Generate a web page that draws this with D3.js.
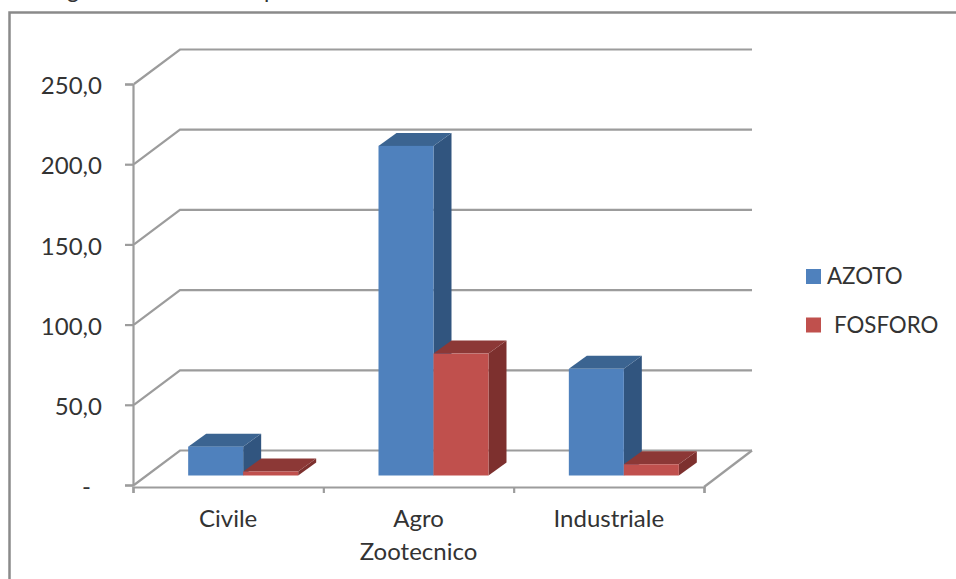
<!DOCTYPE html>
<html>
<head>
<meta charset="utf-8">
<script src="https://cdn.jsdelivr.net/npm/d3@7"></script>
<style>
  html, body { margin: 0; padding: 0; background: #fff; }
  svg { display: block; }
  text { font-family: Lato, "Open Sans", sans-serif; fill: #333; }
</style>
</head>
<body>
<svg id="chart" width="956" height="579"></svg>
<script>
const categories = ['Civile', 'Agro Zootecnico', 'Industriale']
const seriesNames = ['AZOTO', 'FOSFORO']
const azoto = [18, 205.5, 66.5]
const fosforo = [2.5, 76, 7]
const yTicks = [0, 50, 100, 150, 200, 250]

const seriesColors = [
  { front: '#4f81bd', top: '#3b6491', side: '#31557f' },
  { front: '#c0504d', top: '#8c3836', side: '#7d302e' }
]
const gridColor = '#9c9c9c'

const svg = d3.select('#chart')

const xLeft = 133
const xRight = 704
const wallDx = 47
const wallDy = -34.5
const barDx = 18
const barDy = -13
const barLift = 9.5
const barWidth = 55
const barShift = 15

const yScale = d3.scaleLinear().domain([0, 250]).range([485, 84])
const xScale = d3.scaleBand().domain(categories).range([xLeft, xRight])
const xEdges = d3.scaleLinear().domain([0, categories.length]).range([xLeft, xRight])
const seriesScale = d3.scaleBand().domain(seriesNames).range([0, barWidth * 2])

// outer frame, open towards the right and bottom
svg.append('path')
  .attr('d', 'M9.5,579V12.5H956')
  .attr('fill', 'none')
  .attr('stroke', '#8a8a8a')
  .attr('stroke-width', 2.5)

// descenders of the caption line cut off above the frame
svg.selectAll('text.caption')
  .data([{ t: 'g', x: 67 }, { t: 'p', x: 264 }])
  .enter()
  .append('text')
  .attr('class', 'caption')
  .attr('x', d => d.x)
  .attr('y', -2)
  .style('font-size', '23px')
  .text(d => d.t)

// back wall gridlines with the diagonal back to the axis
const wall = svg.append('g')
wall.selectAll('path')
  .data(yTicks)
  .enter()
  .append('path')
  .attr('d', d => {
    const y = yScale(d)
    return `M${xLeft + 1},${y}L${xLeft + wallDx},${y + wallDy}H${xRight + wallDx + 1}`
  })
  .attr('fill', 'none')
  .attr('stroke', gridColor)
  .attr('stroke-width', 2.2)

// floor edge on the right
wall.append('path')
  .attr('d', `M${xRight},487L${xRight + wallDx + 1},${yScale(0) + wallDy}`)
  .attr('fill', 'none')
  .attr('stroke', gridColor)
  .attr('stroke-width', 2.2)

// y axis, zero is written as a dash set in from the number column
const formatTick = d => d === 0 ? '-' : d3.format('.1f')(d).replace('.', ',')
const yAxis = svg.append('g')
  .attr('transform', `translate(${xLeft},0)`)
  .call(d3.axisLeft(yScale).tickValues(yTicks).tickSize(8).tickPadding(23).tickFormat(formatTick))
yAxis.selectAll('path, line').attr('stroke', gridColor).attr('stroke-width', 2.2)
yAxis.selectAll('text')
  .style('font-size', '24px')
  .attr('dy', '0.4em')
  .attr('dx', d => d === 0 ? -11 : 0)

// x axis line and ticks on the category boundaries
const xAxisY = 487
const xTicks = svg.append('g')
  .attr('transform', `translate(0,${xAxisY})`)
  .call(d3.axisBottom(xEdges).ticks(categories.length).tickSizeOuter(0).tickSize(6).tickFormat(''))
xTicks.selectAll('path, line').attr('stroke', gridColor).attr('stroke-width', 2.2)

// category labels, wrapped on spaces
const xLabels = svg.append('g')
  .selectAll('text')
  .data(categories)
  .enter()
  .append('text')
  .attr('text-anchor', 'middle')
  .attr('y', 527)
  .style('font-size', '24px')
xLabels.selectAll('tspan')
  .data(d => d.split(' ').map(word => ({ word, cat: d })))
  .enter()
  .append('tspan')
  .attr('x', d => xScale(d.cat) + xScale.bandwidth() / 2)
  .attr('dy', (d, i) => i ? 33 : 0)
  .text(d => d.word)

// one box per value: front, top and side faces
const rows = categories.flatMap((c, i) => [
  { cat: c, series: 0, value: azoto[i] },
  { cat: c, series: 1, value: fosforo[i] }
])
const barLeft = d => xScale(d.cat) + (xScale.bandwidth() - barWidth * 2) / 2 + barShift + seriesScale(seriesNames[d.series])
const bars = svg.append('g').selectAll('g')
  .data(rows)
  .enter()
  .append('g')

bars.append('path')
  .attr('fill', d => seriesColors[d.series].side)
  .attr('d', d => {
    const x = barLeft(d) + barWidth
    const y0 = yScale(0) - barLift
    const y1 = yScale(d.value) - barLift
    return `M${x},${y0}V${y1}l${barDx},${barDy}V${y0 + barDy}Z`
  })
bars.append('path')
  .attr('fill', d => seriesColors[d.series].top)
  .attr('d', d => {
    const x = barLeft(d)
    const y1 = yScale(d.value) - barLift
    return `M${x},${y1}l${barDx},${barDy}h${barWidth}l${-barDx},${-barDy}Z`
  })
bars.append('rect')
  .attr('fill', d => seriesColors[d.series].front)
  .attr('x', barLeft)
  .attr('y', d => yScale(d.value) - barLift)
  .attr('width', barWidth)
  .attr('height', d => yScale(0) - yScale(d.value))

// legend
const legend = svg.append('g').selectAll('g')
  .data(seriesNames)
  .enter()
  .append('g')
  .attr('transform', (d, i) => `translate(806,${269 + i * 48.5})`)
legend.append('rect')
  .attr('width', 15)
  .attr('height', 15)
  .attr('fill', (d, i) => seriesColors[i].front)
legend.append('text')
  .attr('x', (d, i) => i ? 28 : 21)
  .attr('y', 15)
  .style('font-size', '22.3px')
  .text(d => d)
</script>
</body>
</html>
